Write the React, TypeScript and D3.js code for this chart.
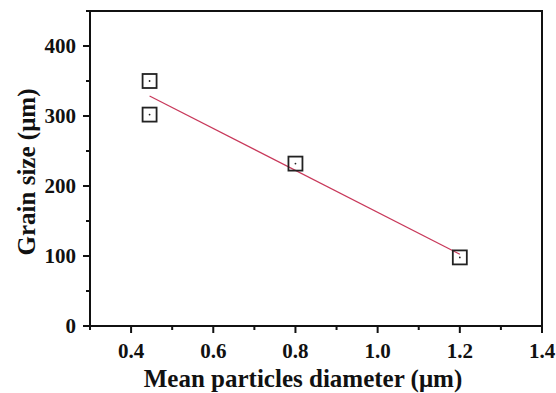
import React from "react";
import * as d3 from "d3";

const diameters = [0.445, 0.445, 0.8, 1.2];
const grainSizes = [350, 302, 232, 98];
const xTickValues = [0.4, 0.6, 0.8, 1.0, 1.2, 1.4];
const yTickValues = [0, 100, 200, 300, 400];

const W = 556;
const H = 393;
const m = { left: 90, right: 14, top: 11, bottom: 67 };

export default function App() {
  const x = d3.scaleLinear().domain([0.3, 1.4]).range([m.left, W - m.right]);
  const y = d3.scaleLinear().domain([0, 450]).range([H - m.bottom, m.top]);

  // least-squares fit across the measured points
  const mx = d3.mean(diameters)!;
  const my = d3.mean(grainSizes)!;
  let sxy = 0;
  let sxx = 0;
  diameters.forEach((d, i) => {
    sxy += (d - mx) * (grainSizes[i] - my);
    sxx += (d - mx) * (d - mx);
  });
  const slope = sxy / sxx;
  const intercept = my - slope * mx;
  const x0 = d3.min(diameters)!;
  const x1 = d3.max(diameters)!;
  const fitLine = d3.line<number>()
    .x((d) => x(d))
    .y((d) => y(intercept + slope * d))([x0, x1]);

  const xMinor = d3.range(0.3, 1.41, 0.1).filter(
    (v) => !xTickValues.some((t) => Math.abs(t - v) < 1e-6)
  );
  const yMinor = d3.range(50, 451, 100);

  const font = "'Liberation Serif', 'Times New Roman', serif";
  const x0px = m.left;
  const x1px = W - m.right;
  const y0px = H - m.bottom;
  const y1px = m.top;
  const sq = 14;

  return (
    <div style={{ position: "absolute", left: 0, top: 0 }}>
      <svg width={W} height={H} style={{ display: "block", background: "#fff" }}>
        {/* frame */}
        <rect x={x0px} y={y1px} width={x1px - x0px} height={y0px - y1px}
          fill="none" stroke="#111" strokeWidth={2} />

        {/* x ticks */}
        {xTickValues.map((t) => (
          <g key={"xt" + t}>
            <line x1={x(t)} x2={x(t)} y1={y0px} y2={y0px + 7} stroke="#111" strokeWidth={2} />
            <text x={x(t)} y={358} textAnchor="middle" fontFamily={font}
              fontWeight="bold" fontSize={21} fill="#111">{t.toFixed(1)}</text>
          </g>
        ))}
        {xMinor.map((t) => (
          <line key={"xm" + t} x1={x(t)} x2={x(t)} y1={y0px} y2={y0px + 4}
            stroke="#111" strokeWidth={2} />
        ))}

        {/* y ticks */}
        {yTickValues.map((t) => (
          <g key={"yt" + t}>
            <line x1={x0px - 7} x2={x0px} y1={y(t)} y2={y(t)} stroke="#111" strokeWidth={2} />
            <text x={x0px - 14} y={y(t)} dy="0.35em" textAnchor="end" fontFamily={font}
              fontWeight="bold" fontSize={21} fill="#111">{t}</text>
          </g>
        ))}
        {yMinor.map((t) => (
          <line key={"ym" + t} x1={x0px - 4} x2={x0px} y1={y(t)} y2={y(t)}
            stroke="#111" strokeWidth={2} />
        ))}

        {/* axis titles */}
        <text x={303} y={387} textAnchor="middle" fontFamily={font}
          fontWeight="bold" fontSize={25} fill="#111">Mean particles diameter (μm)</text>
        <text transform={`translate(35, 172) rotate(-90)`} textAnchor="middle"
          fontFamily={font} fontWeight="bold" fontSize={25} fill="#111">Grain size (μm)</text>

        {/* fitted line */}
        <path d={fitLine ?? ""} fill="none" stroke="#c8385a" strokeWidth={1.2} />

        {/* data markers */}
        {diameters.map((d, i) => (
          <g key={"p" + i}>
            <rect x={x(d) - sq / 2} y={y(grainSizes[i]) - sq / 2} width={sq} height={sq}
              fill="none" stroke="#222" strokeWidth={1.8} />
            <circle cx={x(d)} cy={y(grainSizes[i])} r={0.9} fill="#222" />
          </g>
        ))}
      </svg>
    </div>
  );
}
